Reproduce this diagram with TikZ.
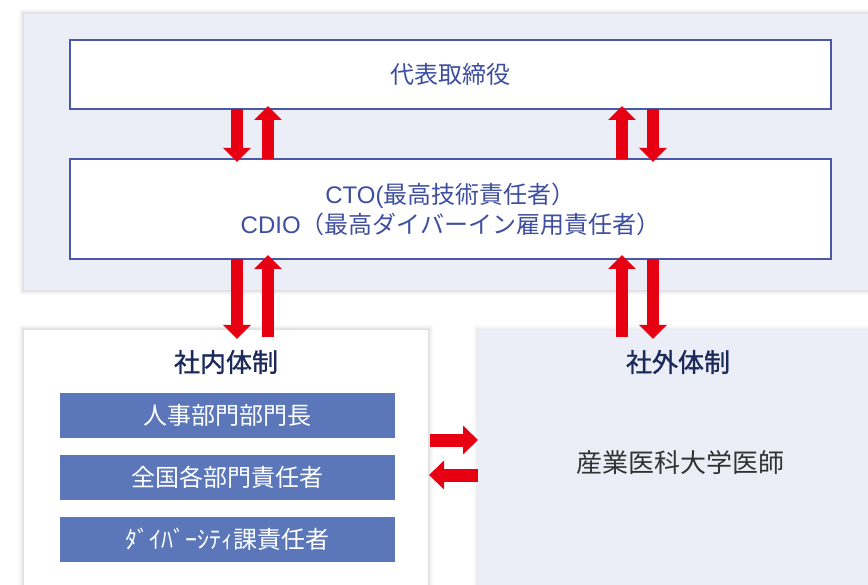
\documentclass[tikz,border=0pt]{standalone}
\usepackage{fontspec}
\setmainfont{Noto Sans CJK JP}
\newfontfamily\latf{Liberation Sans}
\newfontfamily\medf[FakeBold=1.2]{Noto Sans CJK JP}
\usetikzlibrary{arrows.meta}
\definecolor{lav}{HTML}{EBEEF7}
\definecolor{bordblue}{HTML}{4B58A8}
\definecolor{txtblue}{HTML}{3F4FA0}
\definecolor{redarr}{HTML}{E60012}
\definecolor{boxblue}{HTML}{5B77BA}
\definecolor{navy}{HTML}{1B2A5A}
\definecolor{darktxt}{HTML}{333333}
\tikzset{
  panel/.style={anchor=north west, inner sep=0pt, outer sep=0pt, draw=none},
  whitebox/.style={draw=bordblue, line width=2pt, fill=white, inner sep=0pt, outer sep=0pt, text=txtblue, align=center},
  bluebox/.style={fill=boxblue, minimum width=335pt, minimum height=45pt, inner sep=0pt, text=white, font=\fontsize{24}{26}\selectfont},
  title/.style={text=navy, font=\fontsize{26}{28}\selectfont\medf},
  varr/.style={draw=redarr, line width=12pt, -{Triangle[width=27pt,length=14pt]}},
  harr/.style={draw=redarr, line width=13pt, -{Triangle[width=28pt,length=15pt]}},
}
\begin{document}
\begin{tikzpicture}[x=1pt,y=-1pt]
\useasboundingbox (0,0) rectangle (868,585);
\fill[white] (0,0) rectangle (868,585);
% shadows
\foreach \i in {1,...,6}{
  \draw[black, opacity=0.018, line width=1.6*\i pt] (24,14) rectangle (880,290);
  \draw[black, opacity=0.018, line width=1.6*\i pt] (24,330) rectangle (428,600);
  \draw[black, opacity=0.012, line width=1.6*\i pt] (478,330) rectangle (880,600);
}
% panels
\node[panel, fill=lav, minimum width=856pt, minimum height=276pt] (toppanel) at (24,14) {};
\node[panel, fill=white, minimum width=404pt, minimum height=270pt] (lpanel) at (24,330) {};
\node[panel, fill=lav, minimum width=402pt, minimum height=270pt] (rpanel) at (478,330) {};
% top boxes
\node[whitebox, minimum width=761pt, minimum height=69pt, font=\fontsize{24}{26}\selectfont] (top) at (450.5,74.5) {代表取締役};
\node[whitebox, minimum width=761pt, minimum height=100pt, font=\fontsize{24}{30}\selectfont] (mid) at (450.5,209) {{\latf CTO(}最高技術責任者）\\{\latf CDIO}（最高ダイバーイン雇用責任者）};
% arrow x positions
\coordinate (a1) at (237,0);
\coordinate (a2) at (268,0);
\coordinate (a3) at (622,0);
\coordinate (a4) at (653,0);
\draw[varr] (a1 |- top.south) -- ([yshift=-3pt]a1 |- mid.north);
\draw[varr] (a2 |- mid.north) -- ([yshift=3pt]a2 |- top.south);
\draw[varr] (a3 |- mid.north) -- ([yshift=3pt]a3 |- top.south);
\draw[varr] (a4 |- top.south) -- ([yshift=-3pt]a4 |- mid.north);
\draw[varr] (a1 |- mid.south) -- ([yshift=-9pt]a1 |- lpanel.north);
\draw[varr] ([yshift=-7pt]a2 |- lpanel.north) -- ([yshift=4pt]a2 |- mid.south);
\draw[varr] ([yshift=-7pt]a3 |- rpanel.north) -- ([yshift=4pt]a3 |- mid.south);
\draw[varr] (a4 |- mid.south) -- ([yshift=-9pt]a4 |- rpanel.north);
% bottom content
\node[title] (tin) at (226,362) {社内体制};
\node[title] (tout) at (678,362) {社外体制};
\node[bluebox] (b1) at (227.5,415.5) {人事部門部門長};
\node[bluebox] (b2) at (227.5,477.5) {全国各部門責任者};
\node[bluebox] (b3) at (227.5,539.5) {ﾀﾞｲﾊﾞｰｼﾃｨ課責任者};
\node[text=darktxt, font=\fontsize{26}{28}\selectfont] (doc) at (680,463) {産業医科大学医師};
% horizontal arrows
\coordinate (h1) at (0,440);
\coordinate (h2) at (0,475);
\draw[harr] ([xshift=2pt]h1 -| lpanel.east) -- (h1 -| rpanel.west);
\draw[harr] (h2 -| rpanel.west) -- ([xshift=1pt]h2 -| lpanel.east);
\end{tikzpicture}
\end{document}
